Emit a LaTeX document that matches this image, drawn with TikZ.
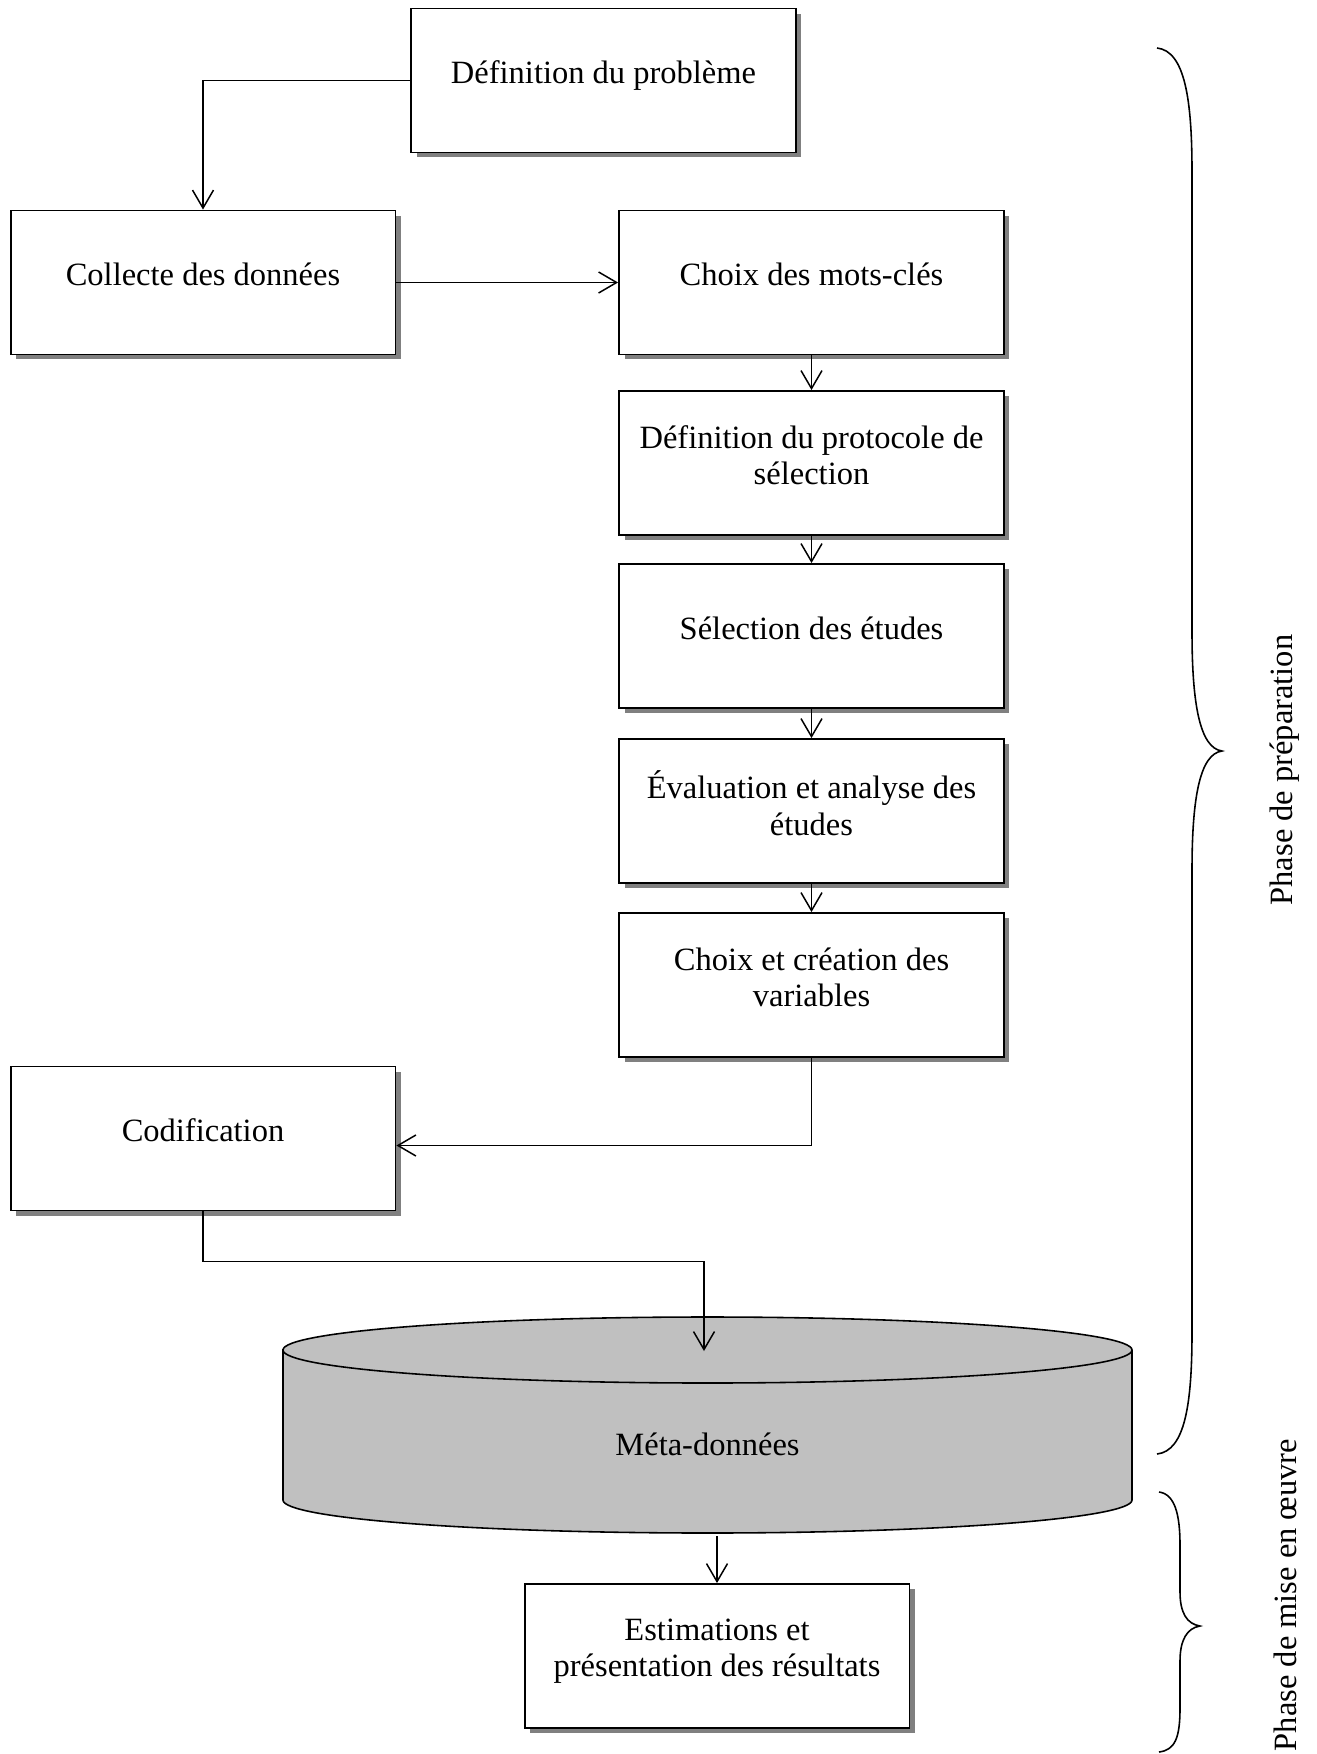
\documentclass[tikz,border=0pt]{standalone}
\usepackage{fontspec}
\setmainfont{Liberation Serif}
\usetikzlibrary{arrows.meta,calc,shadows}
\definecolor{ink}{HTML}{000000}
\definecolor{shade}{HTML}{808080}
\definecolor{drum}{HTML}{C0C0C0}
\tikzset{
  every node/.style={font=\fontsize{18.5}{20.6}\selectfont,text=ink,inner sep=0pt},
  stepbox/.style={draw=ink,line width=1.1pt,fill=white,minimum width=7.7cm,minimum height=2.88cm,align=center,text depth=.32cm,
    drop shadow={shadow xshift=.11cm,shadow yshift=-.1cm,fill=shade,opacity=1}},
  flow/.style={-{Straight Barb[length=.36cm,width=.42cm]},line width=.85pt,draw=ink},
  brace/.style={line width=.9pt,draw=ink},
  side/.style={rotate=90,anchor=center},
}

\begin{document}
\begin{tikzpicture}[x=.02cm,y=.02cm]
\path[use as bounding box] (0,0) rectangle (1317,-1754);
\fill[white] (0,0) rectangle (1317,-1754);
% Preparation steps
\node[stepbox] (prob) at (603.5,-80.5) {Définition du problème};
\node[stepbox] (collect) at (203,-282.5) {Collecte des données};
\node[stepbox] (keys) at (811.5,-282.5) {Choix des mots-clés};
\node[stepbox] (proto) at (811.5,-463) {Définition du protocole de\\sélection};
\node[stepbox] (select) at (811.5,-636) {Sélection des études};
\node[stepbox] (assess) at (811.5,-811) {Évaluation et analyse des\\études};
\node[stepbox] (vars) at (811.5,-985) {Choix et création des\\variables};
\node[stepbox] (codif) at (203,-1138.5) {Codification};
\draw[flow] (prob.west) -| (collect.north);
\draw[flow] (collect.east) -- (keys.west);
\draw[flow] (keys) -- (proto);
\draw[flow] (proto) -- (select);
\draw[flow] (select) -- (assess);
\draw[flow] (assess) -- (vars);
\draw[flow] (vars.south) |- ([yshift=-.14cm]codif.east);
% Meta-data store
\filldraw[draw=ink,fill=drum,line width=.9pt] (283,-1350) -- (283,-1500)
  arc[start angle=180,end angle=360,x radius=424.5,y radius=33] -- (1132,-1350)
  arc[start angle=0,end angle=180,x radius=424.5,y radius=33] -- cycle;
\draw[line width=.9pt,draw=ink] (283,-1350) arc[start angle=180,end angle=360,x radius=424.5,y radius=33];
\node (meta) at (707.5,-1444) {Méta-données};
\coordinate (metain) at (704,-1351);
\coordinate (metaout) at (717,-1536);
\draw[flow] (codif.south) -- ++(0,-50) -| (metain);
% Implementation step
\node[stepbox] (estim) at (717,-1656) {Estimations et\\présentation des résultats};
\draw[flow] (metaout) -- (estim.north);
% Phase braces
\draw[brace] (1157,-48) .. controls (1185,-51) and (1192,-100) .. (1192,-172)
  -- (1192,-632) .. controls (1192,-705) and (1200,-748) .. (1222,-751)
  .. controls (1200,-754) and (1192,-797) .. (1192,-870)
  -- (1192,-1332) .. controls (1192,-1404) and (1185,-1451) .. (1157,-1454);
\draw[brace] (1159,-1492) .. controls (1175,-1494) and (1180,-1515) .. (1180,-1545)
  -- (1180,-1592) .. controls (1180,-1613) and (1187,-1624) .. (1200,-1626)
  .. controls (1187,-1628) and (1180,-1640) .. (1180,-1661)
  -- (1180,-1708) .. controls (1180,-1738) and (1175,-1750) .. (1159,-1752);
\node[side] (prep) at (1285,-770) {Phase de préparation};
\node[side] (impl) at (1285,-1595) {Phase de mise en œuvre};
\end{tikzpicture}
\end{document}
